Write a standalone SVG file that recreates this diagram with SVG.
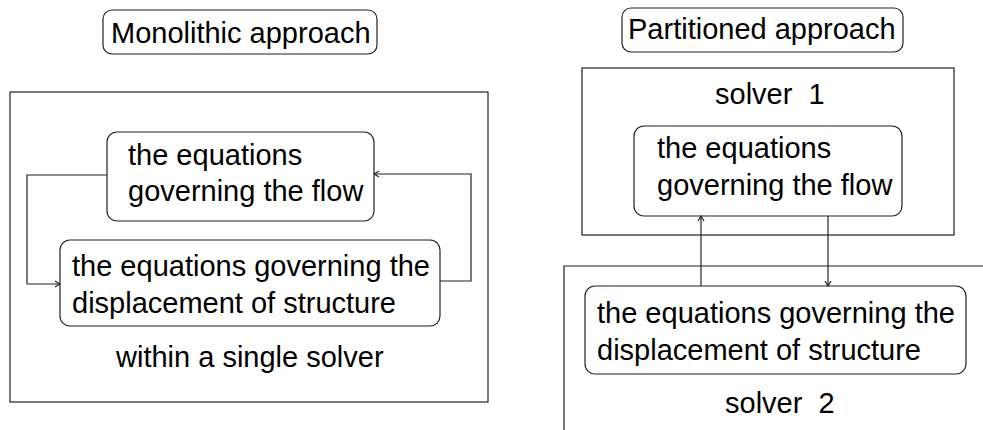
<svg xmlns="http://www.w3.org/2000/svg" width="983" height="430" viewBox="0 0 983 430">
<defs>
<style>
.t{font-family:"Liberation Sans",Arial,sans-serif;font-size:29px;fill:#000}
.b{fill:none;stroke:#222;stroke-width:1.2}
.c{fill:none;stroke:#222;stroke-width:1.2}
</style>
<marker id="ah" viewBox="0 0 8 8" refX="7" refY="4" markerWidth="8" markerHeight="8" markerUnits="userSpaceOnUse" orient="auto">
<path d="M2,1 L7,4 L2,7" fill="none" stroke="#222" stroke-width="1.2"/>
</marker>
</defs>
<rect width="983" height="430" fill="#fff"/>

<g id="mono-title">
<rect class="b" x="103" y="10" width="274" height="44" rx="9"/>
<text class="t" x="111" y="43">Monolithic approach</text>
</g>
<g id="mono-solver">
<rect class="b" x="10" y="92" width="478" height="310"/>
<text class="t" x="116" y="367">within a single solver</text>
</g>
<g id="mono-flow">
<rect class="b" x="107" y="132" width="267" height="89" rx="10"/>
<text class="t" x="128" y="165">the equations</text>
<text class="t" x="128" y="201">governing the flow</text>
</g>
<g id="mono-struct">
<rect class="b" x="60" y="240" width="380" height="86" rx="10"/>
<text class="t" x="72" y="276">the equations governing the</text>
<text class="t" x="72" y="313">displacement of structure</text>
</g>

<g id="part-title">
<rect class="b" x="622" y="8" width="281" height="44" rx="9"/>
<text class="t" x="628" y="39">Partitioned approach</text>
</g>
<g id="solver1">
<rect class="b" x="582" y="68" width="372" height="167"/>
<text class="t" x="715" y="104" xml:space="preserve">solver  1</text>
</g>
<g id="solver2">
<path class="b" d="M564,440 L564,266 L990,266"/>
<text class="t" x="725" y="413" xml:space="preserve">solver  2</text>
</g>
<g id="part-flow">
<rect class="b" x="634" y="126" width="268" height="90" rx="10"/>
<text class="t" x="657" y="158">the equations</text>
<text class="t" x="657" y="195">governing the flow</text>
</g>
<g id="part-struct">
<rect class="b" x="585" y="286" width="381" height="88" rx="10"/>
<text class="t" x="597" y="323">the equations governing the</text>
<text class="t" x="597" y="360">displacement of structure</text>
</g>

<g id="connectors">
<path class="c" d="M107,175 H27 V284 H60" marker-end="url(#ah)"/>
<path class="c" d="M440,281 H471 V174 H374" marker-end="url(#ah)"/>
<path class="c" d="M701,286 V216" marker-end="url(#ah)"/>
<path class="c" d="M828,216 V286" marker-end="url(#ah)"/>
</g>
</svg>
